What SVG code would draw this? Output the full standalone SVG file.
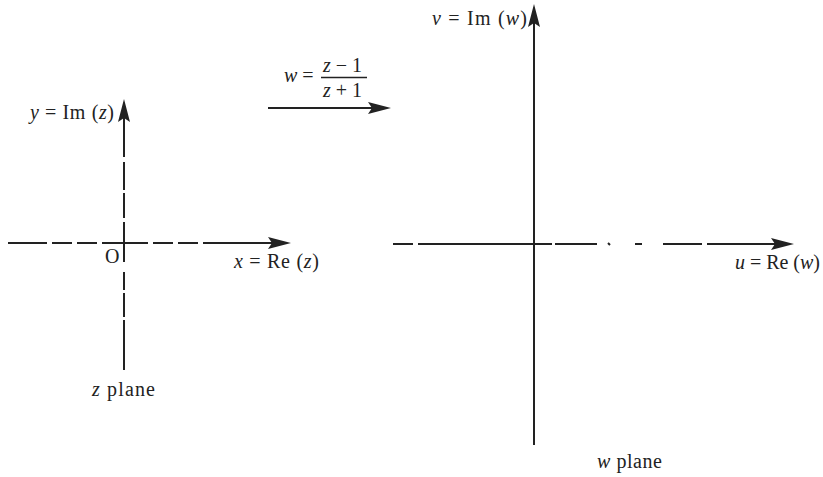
<svg xmlns="http://www.w3.org/2000/svg" width="823" height="477" viewBox="0 0 823 477">
<style>
.ax{stroke:#222;stroke-width:2;fill:none}
.t{font-family:"Liberation Serif","Times New Roman",serif;font-size:20px;fill:#222}
.i{font-style:italic}
</style>
<defs>
<marker id="ah" markerUnits="userSpaceOnUse" markerWidth="24" markerHeight="14" refX="11" refY="7" orient="auto" viewBox="0 0 24 14">
<path d="M0,1 L23,7 L0,13 L4,7 Z" fill="#222"/>
</marker>
</defs>
<rect width="823" height="477" fill="#fff"/>
<g id="z-plane">
<path class="ax" d="M8,243 H47 M52,243 H72 M77,243 H97 M102,243 H148 M153,243 H173 M178,243 H198"/>
<line class="ax" x1="203" y1="243" x2="279" y2="243" marker-end="url(#ah)"/>
<path class="ax" d="M124,162 V190 M124,193 V218 M124,222 V262 M124,272 V290 M124,293 V317 M124,320 V370"/>
<line class="ax" x1="124" y1="157" x2="124" y2="111" marker-end="url(#ah)"/>
<text class="t" x="30" y="119" textLength="84" lengthAdjust="spacing"><tspan class="i">y</tspan> = Im (<tspan class="i">z</tspan>)</text>
<text class="t" x="105" y="263">O</text>
<text class="t" x="234" y="268" textLength="85" lengthAdjust="spacing"><tspan class="i">x</tspan> = Re (<tspan class="i">z</tspan>)</text>
<text class="t" x="92" y="396" textLength="63" lengthAdjust="spacing"><tspan class="i">z</tspan> plane</text>
</g>
<g id="w-plane">
<path class="ax" d="M393,244 H413 M418,244 H552 M555,244 H597 M608,243 L610,245 M635,244 H642 M663,244 H702"/>
<line class="ax" x1="707" y1="244" x2="782" y2="244" marker-end="url(#ah)"/>
<line class="ax" x1="534" y1="445" x2="534" y2="16" marker-end="url(#ah)"/>
<text class="t" x="432" y="25" textLength="95" lengthAdjust="spacing"><tspan class="i">v</tspan> = Im (<tspan class="i">w</tspan>)</text>
<text class="t" x="735" y="269" textLength="85" lengthAdjust="spacing"><tspan class="i">u</tspan> = Re (<tspan class="i">w</tspan>)</text>
<text class="t" x="597" y="468" textLength="65" lengthAdjust="spacing"><tspan class="i">w</tspan> plane</text>
</g>
<g id="mapping">
<text class="t" x="284" y="82"><tspan class="i">w</tspan> =</text>
<text class="t" x="323" y="72"><tspan class="i">z</tspan> − 1</text>
<line x1="321" y1="77.5" x2="367" y2="77.5" stroke="#222" stroke-width="1.3"/>
<text class="t" x="323" y="97"><tspan class="i">z</tspan> + 1</text>
</g>
<g id="connectors">
<line class="ax" x1="268" y1="108" x2="379" y2="108" marker-end="url(#ah)"/>
</g>
</svg>
